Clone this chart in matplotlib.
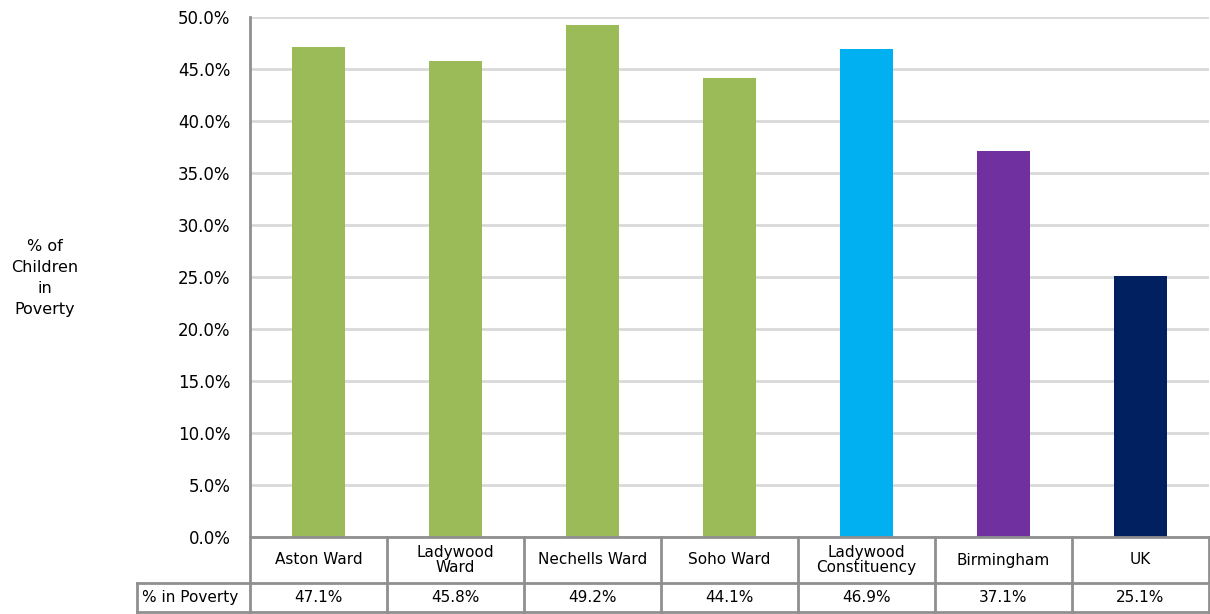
import matplotlib
matplotlib.use("Agg")
import matplotlib.pyplot as plt
from matplotlib.ticker import FuncFormatter, MultipleLocator

plt.rcParams['font.family'] = ['DejaVu Sans']

categories = ["Aston Ward", "Ladywood\nWard", "Nechells Ward", "Soho Ward",
              "Ladywood\nConstituency", "Birmingham", "UK"]
poverty_pct = [47.1, 45.8, 49.2, 44.1, 46.9, 37.1, 25.1]
bar_colors = ["#9BBB59", "#9BBB59", "#9BBB59", "#9BBB59",
              "#00B0F0", "#7030A0", "#002060"]
row_label = "% in Poverty"

W, H = 1210, 614
fig = plt.figure(figsize=(W / 100, H / 100), dpi=100)

line_grey = "#8f8f8f"
grid_grey = "#d9d9d9"
fs = 11

# main bar axes
x0, x1 = 250, 1209
y_top, y_base = 17, 537
ax = fig.add_axes([x0 / W, 1 - y_base / H, (x1 - x0) / W, (y_base - y_top) / H])
n = len(categories)
xs = list(range(n))
ax.bar(xs, poverty_pct, width=0.39, color=bar_colors, zorder=3)
ax.set_xlim(-0.5, n - 0.5)
ax.set_ylim(0, 50)
ax.yaxis.set_major_locator(MultipleLocator(5))
ax.yaxis.set_major_formatter(FuncFormatter(lambda v, p: f"{v:.1f}%"))
ax.grid(axis="y", color=grid_grey, linewidth=2, zorder=0)
ax.set_axisbelow(True)
for s in ["top", "right", "bottom"]:
    ax.spines[s].set_visible(False)
ax.spines["left"].set_color(line_grey)
ax.spines["left"].set_linewidth(2)
ax.set_xticks([])
ax.tick_params(axis="y", length=0, pad=14, labelsize=12, colors="black")

fig.text(45 / W, 1 - 278 / H, "% of\nChildren\nin\nPoverty", ha="center",
         va="center", fontsize=11.5, linespacing=1.5)

# data table underneath
tx0, ty_bot = 137, 612
tax = fig.add_axes([tx0 / W, 1 - ty_bot / H, (x1 - tx0) / W, (ty_bot - y_base) / H])
col_w = (x1 - x0) / n
label_w = (x0 - tx0) / col_w
tax.set_xlim(-label_w, n)
tax.set_ylim(0, ty_bot - y_base)
tax.axis("off")
hdr_h = 583 - y_base
val_h = ty_bot - 583
lw = 2
# horizontal lines
tax.plot([0, n], [val_h + hdr_h, val_h + hdr_h], color=line_grey, lw=lw, clip_on=False)
tax.plot([-label_w, n], [val_h, val_h], color=line_grey, lw=lw, clip_on=False)
tax.plot([-label_w, n], [0, 0], color=line_grey, lw=lw, clip_on=False)
# vertical lines
tax.plot([-label_w, -label_w], [0, val_h], color=line_grey, lw=lw, clip_on=False)
for i in range(n + 1):
    tax.plot([i, i], [0, val_h + hdr_h], color=line_grey, lw=lw, clip_on=False)

for i, (c, v) in enumerate(zip(categories, poverty_pct)):
    tax.text(i + 0.5, val_h + hdr_h / 2, c, ha="center", va="center",
             fontsize=fs, linespacing=1.05)
    tax.text(i + 0.5, val_h / 2, f"{v:.1f}%", ha="center", va="center", fontsize=fs)
tax.text(-label_w + 0.04, val_h / 2, row_label, ha="left", va="center", fontsize=fs)

fig.savefig("out.png", dpi=100)
